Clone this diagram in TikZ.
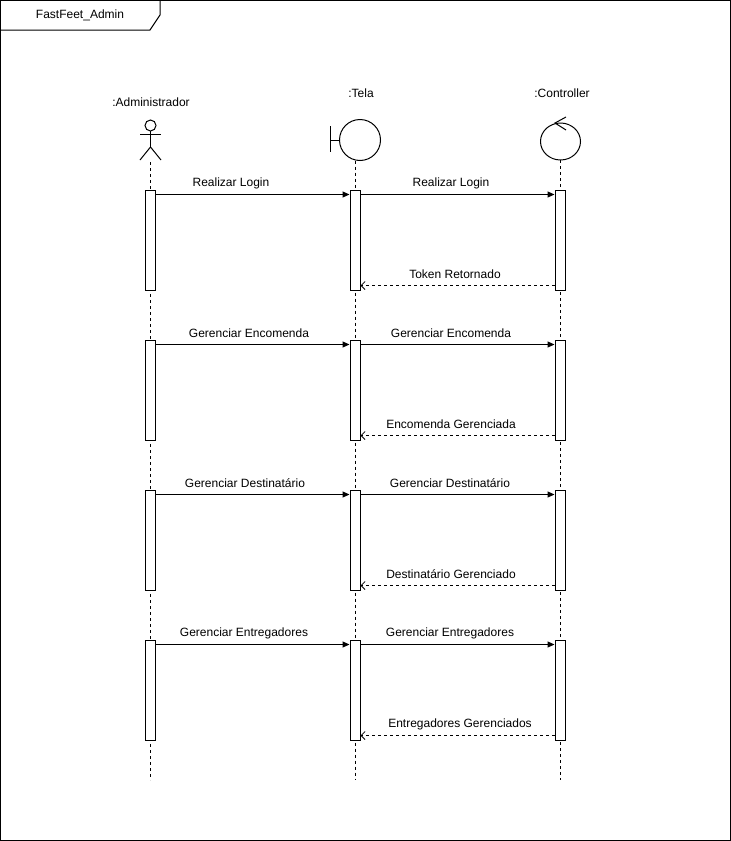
\documentclass[tikz,border=0pt]{standalone}
\usepackage{fontspec}
\setmainfont{Liberation Sans}
\usepackage{tikz}
\usetikzlibrary{arrows.meta}

\tikzset{
	act/.style={draw, fill=white, line width=1pt, minimum width=10pt, minimum height=100pt, inner sep=0pt},
	life/.style={dashed, dash pattern=on 3pt off 3pt, line width=0.8pt},
	msg/.style={line width=1pt, -{Triangle[length=7pt,width=6pt]}},
	ret/.style={line width=0.8pt, dashed, dash pattern=on 3pt off 3pt, -{Straight Barb[length=4pt,width=8pt]}},
	lbl/.style={font=\fontsize{12}{14}\selectfont, inner sep=0pt},
}

\begin{document}
\begin{tikzpicture}[x=1pt, y=-1pt]
		\useasboundingbox (0,0) rectangle (731,841);

		\draw[line width=1pt] (0.5,0.5) rectangle (730,840);
		\draw[line width=1pt] (0.5,30) -- (150,30) -- (160,15) -- (160,0.5);
		\node[lbl] at (80,15) (frame) {FastFeet\_Admin};

		\node[lbl] at (151,102) (admin) {:Administrador};
		\node[lbl] at (361,93) (tela) {:Tela};
		\node[lbl] at (562,93) (ctrl) {:Controller};

		\draw[line width=1pt] (150.5,125.5) circle (5.5);
		\draw[line width=1pt] (140,134) -- (161,134);
		\draw[line width=1pt] (150.5,131) -- (150.5,147);
		\draw[line width=1pt] (140,160) -- (150.5,147) -- (161,160);

		\draw[line width=1pt] (360,140) circle (20.5);
		\draw[line width=1pt] (330,126) -- (330,152);
		\draw[line width=1pt] (330,140) -- (339.5,140);

		\draw[line width=1pt] (560.5,141.5) ellipse (20 and 18.5);
		\draw[line width=1pt] (566,117) -- (555,123) -- (566,130);

		\coordinate (la) at (150,162);
		\coordinate (lt) at (355,160.5);
		\coordinate (lc) at (560,160);
		\coordinate (la2) at (150,780);
		\coordinate (lt2) at (355,780);
		\coordinate (lc2) at (560,780);
		\draw[life] (la) -- (la2);
		\draw[life] (lt) -- (lt2);
		\draw[life] (lc) -- (lc2);

		\node[act] at (150,240) (a1) {};
		\node[act] at (355,240) (t1) {};
		\node[act] at (560,240) (c1) {};
		\draw[msg] ([yshift=-5pt]a1.north east) -- ([yshift=-5pt]t1.north west);
		\draw[msg] ([yshift=-5pt]t1.north east) -- ([yshift=-5pt]c1.north west);
		\draw[ret] ([yshift=5pt]c1.south west) -- ([yshift=5pt]t1.south east);
		\node[lbl] at (231,183) (m1) {Realizar Login};
		\node[lbl] at (451,183) (m2) {Realizar Login};
		\node[lbl] at (455,274) (m3) {Token Retornado};

		\node[act] at (150,390) (a2) {};
		\node[act] at (355,390) (t2) {};
		\node[act] at (560,390) (c2) {};
		\draw[msg] ([yshift=-5pt]a2.north east) -- ([yshift=-5pt]t2.north west);
		\draw[msg] ([yshift=-5pt]t2.north east) -- ([yshift=-5pt]c2.north west);
		\draw[ret] ([yshift=5pt]c2.south west) -- ([yshift=5pt]t2.south east);
		\node[lbl] at (249,333) (m4) {Gerenciar Encomenda};
		\node[lbl] at (451,333) (m5) {Gerenciar Encomenda};
		\node[lbl] at (451,424) (m6) {Encomenda Gerenciada};

		\node[act] at (150,540) (a3) {};
		\node[act] at (355,540) (t3) {};
		\node[act] at (560,540) (c3) {};
		\draw[msg] ([yshift=-5pt]a3.north east) -- ([yshift=-5pt]t3.north west);
		\draw[msg] ([yshift=-5pt]t3.north east) -- ([yshift=-5pt]c3.north west);
		\draw[ret] ([yshift=5pt]c3.south west) -- ([yshift=5pt]t3.south east);
		\node[lbl] at (245,483) (m7) {Gerenciar Destinatário};
		\node[lbl] at (450,483) (m8) {Gerenciar Destinatário};
		\node[lbl] at (451,574) (m9) {Destinatário Gerenciado};

		\node[act] at (150,690) (a4) {};
		\node[act] at (355,690) (t4) {};
		\node[act] at (560,690) (c4) {};
		\draw[msg] ([yshift=-5pt]a4.north east) -- ([yshift=-5pt]t4.north west);
		\draw[msg] ([yshift=-5pt]t4.north east) -- ([yshift=-5pt]c4.north west);
		\draw[ret] ([yshift=5pt]c4.south west) -- ([yshift=5pt]t4.south east);
		\node[lbl] at (244,633) (m10) {Gerenciar Entregadores};
		\node[lbl] at (450,633) (m11) {Gerenciar Entregadores};
		\node[lbl] at (460,724) (m12) {Entregadores Gerenciados};
	\end{tikzpicture}
\end{document}
